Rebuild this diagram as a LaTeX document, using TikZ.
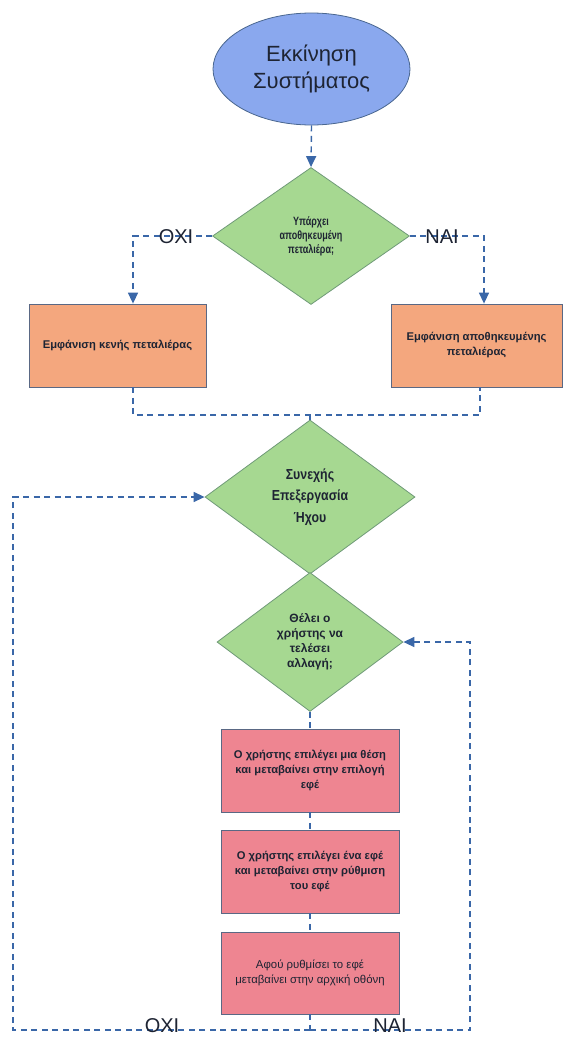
\documentclass[tikz,border=0pt]{standalone}
\usepackage{fontspec}
\setmainfont{Liberation Sans}
\newfontfamily\cndA{Liberation Sans Bold}[FakeStretch=0.75]
\newfontfamily\cndB{Liberation Sans Bold}[FakeStretch=0.85]
\usetikzlibrary{shapes.geometric,arrows.meta,calc}
\definecolor{ellf}{HTML}{8AA8EE}
\definecolor{ellb}{HTML}{4A6790}
\definecolor{diaf}{HTML}{A6D891}
\definecolor{diab}{HTML}{6F9A78}
\definecolor{orf}{HTML}{F4A77E}
\definecolor{pkf}{HTML}{EE8591}
\definecolor{boxb}{HTML}{5A6884}
\definecolor{linkc}{HTML}{3A67A8}
\definecolor{txt}{HTML}{1E2433}
\tikzset{
  ell/.style={ellipse, draw=ellb, line width=0.8pt, fill=ellf, minimum width=197pt, minimum height=112pt, inner sep=0pt, align=center, text=txt, font=\fontsize{22}{27}\selectfont},
  dia/.style={diamond, draw=diab, line width=0.8pt, fill=diaf, inner sep=0pt, align=center, text=txt},
  rbox/.style={rectangle, draw=boxb, line width=0.8pt, inner sep=0pt, align=center, text=txt},
  link/.style={draw=linkc, line width=1.4pt, dash pattern=on 6pt off 4.5pt},
  arr/.style={-{Triangle[length=11pt,width=10pt]}},
  lab/.style={text=txt, inner sep=0pt, font=\fontsize{20}{24}\selectfont}
}
\begin{document}
\begin{tikzpicture}[x=1pt,y=-1pt]
\useasboundingbox (0,0) rectangle (563,1037);

% nodes
\node[ell] (start) at (311.5,69) {Εκκίνηση\\Συστήματος};
\node[dia, minimum width=197pt, minimum height=137pt, font=\cndA\fontsize{12}{14}\selectfont] (d1) at (311,236) {Υπάρχει\\αποθηκευμένη\\πεταλιέρα;};
\node[rbox, fill=orf, minimum width=177pt, minimum height=83pt, font=\bfseries\fontsize{11.2}{15}\selectfont] (boxL) at (117.5,345.5) {Εμφάνιση κενής πεταλιέρας};
\node[rbox, fill=orf, minimum width=171pt, minimum height=83pt, font=\bfseries\fontsize{11.2}{15}\selectfont] (boxR) at (476.5,345.5) {Εμφάνιση αποθηκευμένης\\πεταλιέρας};
\node[dia, minimum width=210pt, minimum height=154pt, font=\cndB\fontsize{14.5}{21.5}\selectfont] (d2) at (310,497) {Συνεχής\\Επεξεργασία\\Ήχου};
\node[dia, minimum width=186pt, minimum height=139pt, font=\bfseries\fontsize{12}{15}\selectfont] (d3) at (310,642) {Θέλει ο\\χρήστης να\\τελέσει\\αλλαγή;};
\node[rbox, fill=pkf, minimum width=178pt, minimum height=83pt, font=\bfseries\fontsize{11.2}{14.7}\selectfont] (p1) at (310,770.5) {Ο χρήστης επιλέγει μια θέση\\και μεταβαίνει στην επιλογή\\εφέ};
\node[rbox, fill=pkf, minimum width=178pt, minimum height=83pt, font=\bfseries\fontsize{11.2}{14.7}\selectfont] (p2) at (310,871.5) {Ο χρήστης επιλέγει ένα εφέ\\και μεταβαίνει στην ρύθμιση\\του εφέ};
\node[rbox, fill=pkf, minimum width=178pt, minimum height=82pt, font=\fontsize{11.4}{15}\selectfont] (p3) at (310,973) {Αφού ρυθμίσει το εφέ\\μεταβαίνει στην αρχική οθόνη};

% helper coordinates
\coordinate (cl) at (133,0);
\coordinate (cr) at (484,0);
\coordinate (bl) at (133,415);
\coordinate (br) at (480,415);
\coordinate (bm) at (310,415);
\coordinate (bot) at (310,1030);
\coordinate (lx) at (13,1030);
\coordinate (rx) at (470,1030);

% connectors
\draw[link,arr] (start.south) -- (d1.north);
\draw[link,arr] (d1.west) -| (boxL.north -| cl);
\draw[link,arr] (d1.east) -| (boxR.north -| cr);
\draw[link] (boxL.south -| bl) |- (br) -- (boxR.south -| br);
\draw[link] (bm) -- (d2.north);
\draw[link] (d3.south) -- (p1.north);
\draw[link] (p1.south) -- (p2.north);
\draw[link] (p2.south) -- (p3.north);
\draw[link] (p3.south) -- (bot);
\draw[link,arr] (bot) -- (lx) |- (d2.west);
\draw[link,arr] (bot) -- (rx) |- (d3.east);

% labels
\node[lab] (no1) at (176,237) {ΟΧΙ};
\node[lab] (yes1) at (442,237) {ΝΑΙ};
\node[lab] (no2) at (162,1026) {ΟΧΙ};
\node[lab] (yes2) at (390,1026) {ΝΑΙ};
\end{tikzpicture}
\end{document}
